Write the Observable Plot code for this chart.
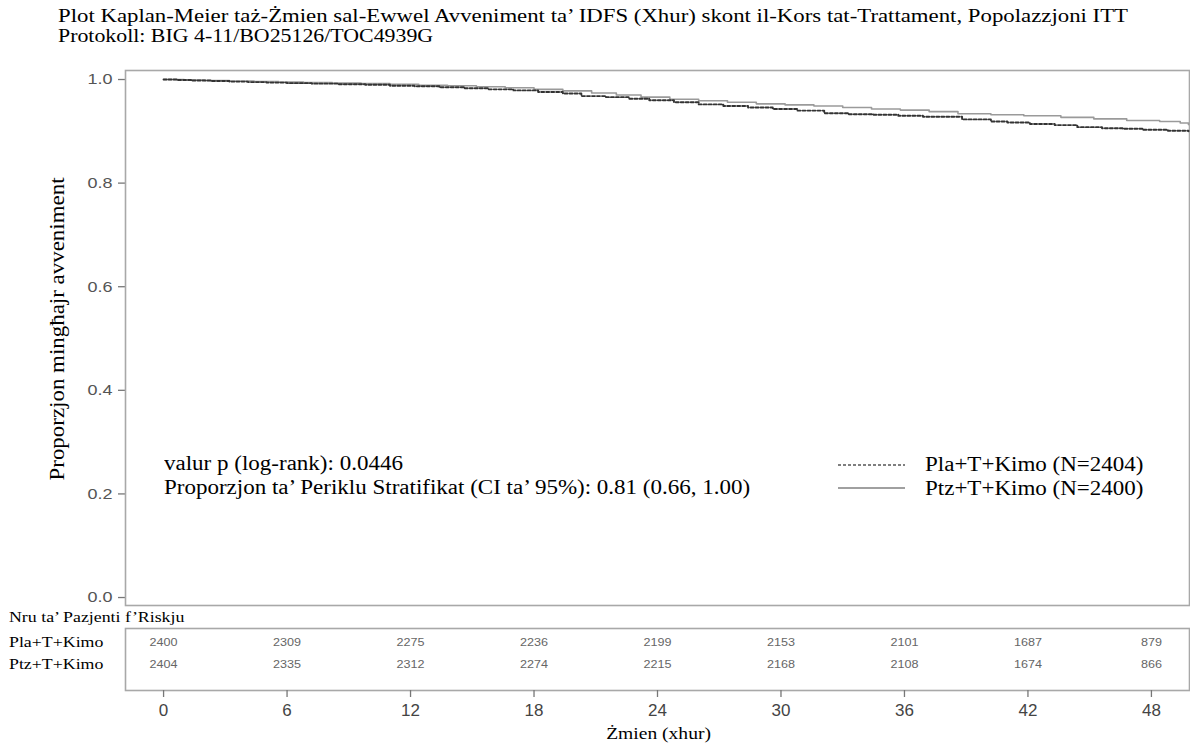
<!DOCTYPE html>
<html><head><meta charset="utf-8">
<script src="https://cdn.jsdelivr.net/npm/d3@7"></script>
<script src="https://cdn.jsdelivr.net/npm/@observablehq/plot@0.6"></script>
<style>
body{margin:0;background:#fff;}
#wrap{position:relative;width:1190px;height:744px;overflow:hidden;color:#000;}
.t{position:absolute;white-space:nowrap;line-height:1;font-family:"Liberation Serif","Times New Roman",serif;}
.p{position:absolute;left:0;}
</style></head><body><div id="wrap"></div>
<script>
// ---- data ----
const titleLines = [
  "Plot Kaplan-Meier taż-Żmien sal-Ewwel Avveniment ta’ IDFS (Xhur) skont il-Kors tat-Trattament, Popolazzjoni ITT",
  "Protokoll: BIG 4-11/BO25126/TOC4939G"
];
const yLabel = "Proporzjon mingħajr avveniment";
const xLabel = "Żmien (xhur)";
const annotLines = ["valur p (log-rank): 0.0446", "Proporzjon ta’ Periklu Stratifikat (CI ta’ 95%): 0.81 (0.66, 1.00)"];
const legendLabels = ["Pla+T+Kimo (N=2404)", "Ptz+T+Kimo (N=2400)"];
const riskHeader = "Nru ta’ Pazjenti f’Riskju";
const groups = ["Pla+T+Kimo", "Ptz+T+Kimo"];
const yTicks = [0, 0.2, 0.4, 0.6, 0.8, 1.0];
const xTicks = [0, 6, 12, 18, 24, 30, 36, 42, 48];

const plaMonths = [0,0.7,1.4,2.3,3.2,4.1,5.0,6.0,7.2,8.5,9.8,11.0,12.2,13.4,14.6,15.8,17.0,18.2,19.4,20.3,21.5,22.6,23.6,24.8,26.0,27.2,28.4,29.6,30.8,32.1,33.3,34.5,35.7,36.9,38.8,40.2,41.0,42.1,43.3,44.4,45.6,46.6,47.6,48.8,49.8];
const plaSurv = [1.000,0.999,0.998,0.997,0.996,0.995,0.994,0.993,0.992,0.991,0.990,0.988,0.987,0.985,0.983,0.981,0.979,0.976,0.973,0.968,0.966,0.963,0.960,0.956,0.952,0.949,0.946,0.943,0.940,0.935,0.933,0.932,0.930,0.928,0.923,0.919,0.917,0.914,0.912,0.908,0.906,0.905,0.903,0.901,0.900];
const ptzMonths = [0,1.0,2.0,3.2,4.4,5.6,6.8,8.2,9.6,11.0,12.4,13.8,15.2,16.6,18.0,19.4,20.8,22.0,23.2,24.6,26.0,27.4,28.8,30.2,31.6,33.0,34.4,35.8,37.2,38.6,40.2,41.8,43.6,45.2,46.8,48.4,49.4,49.8];
const ptzSurv = [1.000,0.999,0.998,0.997,0.996,0.995,0.994,0.993,0.992,0.991,0.989,0.988,0.986,0.984,0.981,0.978,0.974,0.970,0.966,0.962,0.959,0.956,0.953,0.951,0.949,0.946,0.943,0.941,0.938,0.934,0.932,0.930,0.927,0.924,0.921,0.919,0.916,0.913];

const riskTimes = [0, 6, 12, 18, 24, 30, 36, 42, 48];
const plaRisk = [2400, 2309, 2275, 2236, 2199, 2153, 2101, 1687, 879];
const ptzRisk = [2404, 2335, 2312, 2274, 2215, 2168, 2108, 1674, 866];

// ---- build tables ----
const pla = plaMonths.map((m, i) => ({m, s: plaSurv[i]}));
const ptz = ptzMonths.map((m, i) => ({m, s: ptzSurv[i]}));
const risk = [
  ...riskTimes.map((t, i) => ({t, g: groups[0], n: plaRisk[i]})),
  ...riskTimes.map((t, i) => ({t, g: groups[1], n: ptzRisk[i]}))
];

const wrap = document.getElementById("wrap");
const xDomain = [-1.85, 49.85];
const sans = "'Liberation Sans', Arial, sans-serif";

function stretch(svg, sel, k) {
  svg.querySelectorAll(sel).forEach(t => {
    t.setAttribute("transform", (t.getAttribute("transform") || "") + ` scale(${k},1)`);
  });
}

const main = Plot.plot({
  width: 1190, height: 555,
  marginLeft: 125, marginRight: 1, marginTop: 10, marginBottom: 10,
  style: {fontFamily: sans, fontSize: "14px", background: "transparent"},
  x: {domain: xDomain, axis: null},
  y: {domain: [-0.0154, 1.0174], axis: null},
  marks: [
    Plot.axisY({ticks: yTicks, tickFormat: d3.format(".1f"), tickSize: 7, tickPadding: 6, label: null, stroke: "#777", strokeWidth: 1.3, fill: "#555", fontSize: 15}),
    Plot.frame({stroke: "#a8a8a8", strokeWidth: 1.6}),
    Plot.line(ptz, {x: "m", y: "s", curve: "step-after", stroke: "#9a9a9a", strokeWidth: 1.6}),
    Plot.line(pla, {x: "m", y: "s", curve: "step-after", stroke: "#333", strokeWidth: 1.9, strokeDasharray: "3,2"})
  ]
});
stretch(main, "text", 1.2);
main.classList.add("p");
main.style.top = "60px";
wrap.appendChild(main);

const riskPlot = Plot.plot({
  width: 1190, height: 124,
  marginLeft: 125, marginRight: 1, marginTop: 8, marginBottom: 54,
  style: {fontFamily: sans, fontSize: "14px", background: "transparent"},
  x: {domain: xDomain, axis: null},
  y: {type: "point", domain: groups, range: [22, 44], padding: 0, axis: null},
  marks: [
    Plot.frame({stroke: "#a8a8a8", strokeWidth: 1.6}),
    Plot.text(risk, {x: "t", y: "g", text: d => String(d.n), fontSize: 10.5, fill: "#666", className: "risknum"}),
    Plot.axisX({ticks: xTicks, tickSize: 7, tickPadding: 6, label: null, stroke: "#777", strokeWidth: 1.3, fill: "#444", fontSize: 17})
  ]
});
stretch(riskPlot, ".risknum text", 1.2);
riskPlot.classList.add("p");
riskPlot.style.top = "620px";
wrap.appendChild(riskPlot);

// ---- html texts ----
function label(txt, o) {
  const el = document.createElement("div");
  el.className = "t";
  el.textContent = txt;
  el.style.fontSize = o.size + "px";
  wrap.appendChild(el);
  const w = el.getBoundingClientRect().width;
  const s = o.scale || (o.width ? o.width / w : 1);
  el.style.top = (o.cy - o.size / 2) + "px";
  if (o.rotate) {
    el.style.left = (o.cx - w / 2) + "px";
    el.style.transformOrigin = "50% 50%";
    el.style.transform = `rotate(-90deg) scaleX(${s})`;
  } else if (o.anchor === "middle") {
    el.style.left = (o.cx - w / 2) + "px";
    el.style.transformOrigin = "50% 50%";
    el.style.transform = `scaleX(${s})`;
  } else {
    el.style.left = o.x + "px";
    el.style.transformOrigin = "0 50%";
    el.style.transform = `scaleX(${s})`;
  }
  return el;
}

const K = 1.15;
label(titleLines[0], {x: 58, cy: 15, width: 1070, size: 19});
label(titleLines[1], {x: 58, cy: 35, size: 19, scale: K});
label(yLabel, {cx: 57, cy: 329, width: 303, size: 20, rotate: true});
label(annotLines[0], {x: 164, cy: 463, size: 20, scale: K});
label(annotLines[1], {x: 164, cy: 487, size: 20, scale: K});
label(legendLabels[0], {x: 925, cy: 464, size: 20, scale: K});
label(legendLabels[1], {x: 925, cy: 488, size: 20, scale: K});
label(riskHeader, {x: 9, cy: 617, size: 15.5, scale: K});
label(groups[0], {x: 9, cy: 642, size: 15.5, scale: K});
label(groups[1], {x: 9, cy: 664, size: 15.5, scale: K});
label(xLabel, {cx: 659, cy: 733, size: 17, scale: K, anchor: "middle"});

// legend samples
const ns = "http://www.w3.org/2000/svg";
const lg = document.createElementNS(ns, "svg");
lg.setAttribute("width", 80); lg.setAttribute("height", 40);
lg.style.position = "absolute"; lg.style.left = "832px"; lg.style.top = "455px";
const styles = [{stroke: "#555", w: 1.3, dash: "3,2", y: 10}, {stroke: "#a0a0a0", w: 2, dash: null, y: 33}];
styles.forEach(st => {
  const l = document.createElementNS(ns, "line");
  l.setAttribute("x1", 6); l.setAttribute("x2", 73);
  l.setAttribute("y1", st.y); l.setAttribute("y2", st.y);
  l.setAttribute("stroke", st.stroke); l.setAttribute("stroke-width", st.w);
  if (st.dash) l.setAttribute("stroke-dasharray", st.dash);
  lg.appendChild(l);
});
wrap.appendChild(lg);
</script>
</body></html>
